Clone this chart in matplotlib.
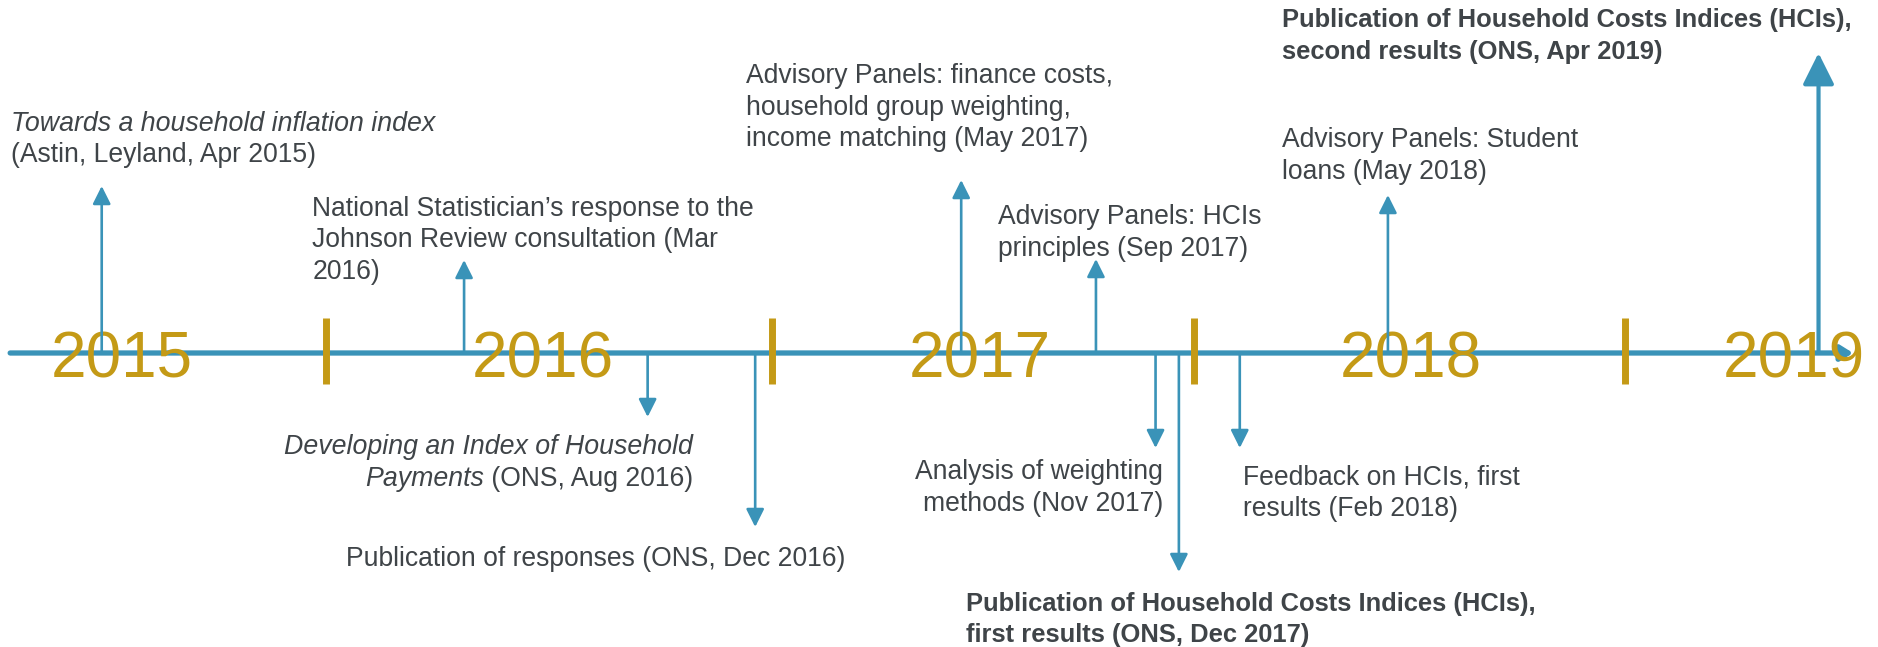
import matplotlib.pyplot as plt

plt.rcParams['font.family'] = ['Liberation Sans', 'DejaVu Sans']

BLUE = '#3a93b8'
GOLD = '#c49a16'
TEXT = '#3f4448'

# timeline data (positions in decimal years)
years = ['2015', '2016', '2017', '2018', '2019']
year_centres = [2015.514, 2016.490, 2017.501, 2018.499, 2019.386]
year_breaks = [2015.987, 2017.020, 2017.998, 2018.995]

event_dates = [2015.468, 2016.307, 2016.732, 2016.981, 2017.458, 2017.770,
               2017.908, 2017.962, 2018.103, 2018.446, 2019.443]

# each label: list of lines, each line a list of (text, style) pieces
event_labels = [
    [[("Towards a household inflation index", "italic")],
     [("(Astin, Leyland, Apr 2015)", "normal")]],
    [[("National Statistician\u2019s response to the", "normal")],
     [("Johnson Review consultation (Mar", "normal")],
     [("2016)", "normal")]],
    [[("Developing an Index of Household", "italic")],
     [("Payments", "italic"), (" (ONS, Aug 2016)", "normal")]],
    [[("Publication of responses (ONS, Dec 2016)", "normal")]],
    [[("Advisory Panels: finance costs,", "normal")],
     [("household group weighting,", "normal")],
     [("income matching (May 2017)", "normal")]],
    [[("Advisory Panels: HCIs", "normal")],
     [("principles (Sep 2017)", "normal")]],
    [[("Analysis of weighting", "normal")],
     [("methods (Nov 2017)", "normal")]],
    [[("Publication of Household Costs Indices (HCIs),", "bold")],
     [("first results (ONS, Dec 2017)", "bold")]],
    [[("Feedback on HCIs, first", "normal")],
     [("results (Feb 2018)", "normal")]],
    [[("Advisory Panels: Student", "normal")],
     [("loans (May 2018)", "normal")]],
    [[("Publication of Household Costs Indices (HCIs),", "bold")],
     [("second results (ONS, Apr 2019)", "bold")]],
]

# layout: arrow length in px (+ up), text anchor x (years), first baseline y (px), alignment
arrow_len = [167, 93, -64, -174, 173, 94, -95, -219, -95, 158, 300]
text_x = [2015.258, 2015.956, 2016.837, 2016.034, 2016.960, 2017.543,
          2017.925, 2017.469, 2018.110, 2018.200, 2018.200]
text_y = [130.7, 215.7, 454, 565.7, 83, 224, 479, 610.7, 484, 147, 27.3]
text_ha = ['left', 'left', 'right', 'left', 'left', 'left',
           'right', 'left', 'left', 'left', 'left']
big_arrow = [False] * 10 + [True]

LINE_Y = 353
LINE_H = 31.7
SIZES = {'normal': 19.1, 'italic': 19.3, 'bold': 18.4}


def style_kw(style):
    kw = dict(fontsize=SIZES[style], color=TEXT)
    if style == 'italic':
        kw['style'] = 'italic'
    if style == 'bold':
        kw['weight'] = 'bold'
    return kw


def draw_line(ax, x, y, pieces, ha):
    order = pieces if ha == 'left' else pieces[::-1]
    first, style = order[0]
    prev = ax.text(x, y, first, ha=ha, va='baseline', **style_kw(style))
    for txt, style in order[1:]:
        anchor = (1, 0) if ha == 'left' else (0, 0)
        prev = ax.annotate(txt, xy=anchor, xycoords=prev, ha=ha, va='bottom',
                           **style_kw(style))


fig = plt.figure(figsize=(18.78, 6.47), dpi=100)
ax = fig.add_axes([0, 0, 1, 1])
ax.axis('off')
ax.set_xlim(2015.2325, 2019.5807)
ax.set_ylim(647, 0)

# main axis line with arrow head
ax.annotate('', xy=(2019.523, LINE_Y), xytext=(2015.256, LINE_Y),
            arrowprops=dict(arrowstyle='-|>,head_length=0.4,head_width=0.25',
                            color=BLUE, lw=3.8, mutation_scale=18,
                            shrinkA=0, shrinkB=0), zorder=2)

for lab, xc in zip(years, year_centres):
    ax.text(xc, 377, lab, ha='center', va='baseline', fontsize=46,
            color=GOLD, zorder=3)

for xb in year_breaks:
    ax.plot([xb, xb], [318, 384], color=GOLD, lw=5, solid_capstyle='butt',
            zorder=4)

for d, ln, big in zip(event_dates, arrow_len, big_arrow):
    if big:
        props = dict(arrowstyle='-|>,head_length=0.4,head_width=0.2',
                     color=BLUE, lw=3, mutation_scale=48, shrinkA=0, shrinkB=0)
    else:
        props = dict(arrowstyle='-|>,head_length=0.4,head_width=0.2',
                     color=BLUE, lw=1.9, mutation_scale=27, shrinkA=0, shrinkB=0)
    ax.annotate('', xy=(d, LINE_Y - ln), xytext=(d, LINE_Y),
                arrowprops=props, zorder=5)

for lines, x, y, ha in zip(event_labels, text_x, text_y, text_ha):
    for i, pieces in enumerate(lines):
        draw_line(ax, x, y + i * LINE_H, pieces, ha)

fig.savefig('out.png', dpi=100, facecolor='white')
